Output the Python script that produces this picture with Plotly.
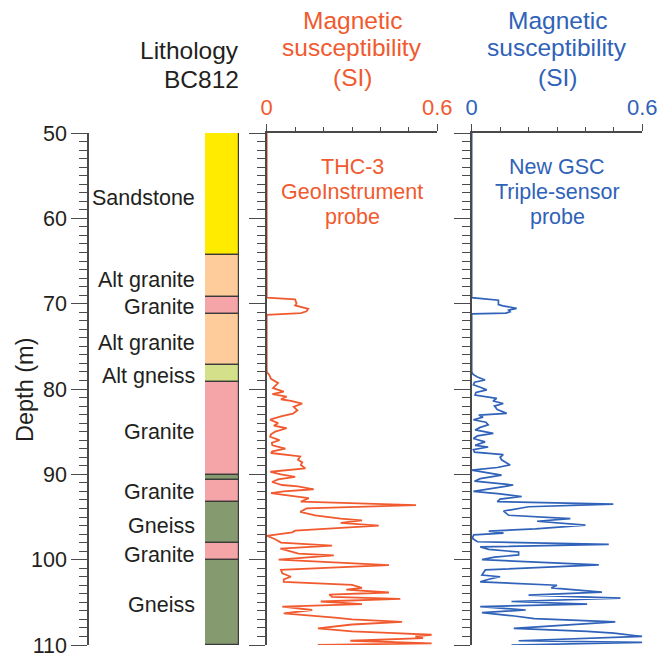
import plotly.graph_objects as go

# ---------------- data ----------------
# Lithology log for borehole BC812: unit name, top depth (m), bottom depth (m)
litho_names = ["Sandstone", "Alt granite", "Granite", "Alt granite", "Alt gneiss",
               "Granite", "Gneiss", "Granite", "Gneiss", "Granite", "Gneiss"]
litho_top = [50.0, 64.3, 69.2, 71.2, 77.2, 79.2, 90.1, 90.7, 93.2, 98.1, 100.0]
litho_bottom = [64.3, 69.2, 71.2, 77.2, 79.2, 90.1, 90.7, 93.2, 98.1, 100.0, 110.0]
litho_labels = ["Sandstone", "Alt granite", "Granite", "Alt granite", "Alt gneiss",
                "Granite", "Granite", "Gneiss", "Granite", "Gneiss"]
litho_label_depth = [57.6, 67.2, 70.4, 74.6, 78.5, 85.0, 92.1, 96.0, 99.4, 105.3]

# THC-3 GeoInstrument probe: depth (m), magnetic susceptibility (SI)
thc_depth = [50.0, 69.3, 69.5, 70.0, 70.2, 70.6, 70.9, 71.1, 71.3, 78.0, 78.4, 78.8,
             79.3, 79.9, 80.3, 80.6, 80.9, 81.2, 81.4, 81.7, 82.1, 82.5, 82.9, 83.2,
             83.6, 84.0, 84.3, 84.6, 85.0, 85.3, 85.6, 86.0, 86.3, 86.6, 87.0, 87.3,
             87.5, 87.9, 88.3, 88.6, 88.9, 89.3, 89.7, 90.0, 90.3, 90.6, 90.9, 91.25,
             91.4, 91.75, 92.0, 92.2, 92.4, 92.8, 93.2, 93.6, 94.0, 94.4, 94.8, 95.2,
             95.4, 95.7, 96.0, 96.3, 96.6, 96.8, 97.2, 97.6, 98.0, 98.35, 98.7, 99.1,
             99.3, 99.5, 99.8, 100.0, 100.65, 101.2, 101.6, 102.0, 102.3, 102.6, 102.95,
             103.3, 103.5, 103.85, 104.1, 104.35, 104.6, 104.9, 105.2, 105.5, 105.9,
             106.3, 106.8, 107.0, 107.3, 107.6, 108.05, 108.4, 108.6, 108.8, 109.0,
             109.2, 109.5, 109.8, 110.0]
thc_ms = [0.0, 0.0, 0.1, 0.105, 0.1, 0.146, 0.14, 0.12, 0.0, 0.0, 0.01, 0.015,
          0.04, 0.022, 0.06, 0.02, 0.07, 0.05, 0.085, 0.125, 0.095, 0.108, 0.092, 0.05,
          0.012, 0.04, 0.025, 0.07, 0.03, 0.015, 0.012, 0.045, 0.018, 0.02, 0.066, 0.02,
          0.015, 0.118, 0.11, 0.125, 0.12, 0.136, 0.013, 0.05, 0.1, 0.04, 0.019, 0.054,
          0.11, 0.165, 0.06, 0.015, 0.06, 0.148, 0.12, 0.525, 0.14, 0.118, 0.17, 0.26,
          0.335, 0.26, 0.394, 0.26, 0.1, 0.09, 0.0, 0.03, 0.05, 0.23, 0.048, 0.09,
          0.112, 0.236, 0.1, 0.042, 0.43, 0.05, 0.055, 0.085, 0.06, 0.06, 0.3,
          0.335, 0.28, 0.43, 0.22, 0.23, 0.47, 0.19, 0.335, 0.055, 0.16,
          0.06, 0.24, 0.3, 0.476, 0.3, 0.18, 0.3, 0.45, 0.58, 0.523,
          0.55, 0.294, 0.58, 0.18]

# New GSC Triple-sensor probe: depth (m), magnetic susceptibility (SI)
gsc_depth = [50.0, 69.3, 69.6, 70.1, 70.25, 70.4, 70.55, 70.75, 70.95, 71.1, 71.2,
             78.0, 78.3, 78.6, 78.95, 79.2, 79.5, 79.8, 80.1, 80.4, 80.7, 81.1, 81.4,
             81.7, 82.0, 82.4, 82.85, 83.05, 83.3, 83.6, 83.9, 84.2, 84.5, 84.8, 85.2,
             85.5, 85.8, 86.2, 86.6, 86.8, 87.1, 87.4, 87.7, 88.0, 88.3, 88.9, 89.2,
             89.5, 89.8, 90.1, 90.5, 90.8, 91.25, 91.6, 92.0, 92.3, 92.6, 92.9, 93.2,
             93.5, 93.8, 94.3, 94.8, 95.2, 95.5, 95.95, 96.4, 96.65, 96.9, 97.1, 97.5,
             97.9, 98.2, 98.5, 98.8, 99.1, 99.45, 99.7, 100.0, 100.6, 101.2, 101.8,
             102.0, 102.3, 102.6, 103.0, 103.3, 103.8, 104.15, 104.5, 104.9, 105.2,
             105.5, 105.9, 106.2, 106.6, 106.9, 107.3, 107.7, 108.05, 108.4, 108.6,
             109.0, 109.5, 109.7, 110.0]
gsc_ms = [0.0, 0.0, 0.094, 0.094, 0.11, 0.13, 0.158, 0.13, 0.135, 0.12, 0.0,
          0.0, 0.005, 0.02, 0.047, 0.01, 0.006, 0.03, 0.053, 0.015, 0.012, 0.088, 0.075,
          0.111, 0.08, 0.09, 0.123, 0.025, 0.04, 0.006, 0.05, 0.058, 0.03, 0.012, 0.076,
          0.02, 0.006, 0.047, 0.012, 0.058, 0.006, 0.01, 0.111, 0.1, 0.105, 0.135, 0.09,
          0.0, 0.06, 0.105, 0.03, 0.01, 0.146, 0.08, 0.006, 0.1, 0.176, 0.1, 0.09,
          0.498, 0.2, 0.112, 0.13, 0.347, 0.23, 0.4, 0.224, 0.06, 0.112, 0.007, 0.002,
          0.02, 0.482, 0.03, 0.06, 0.165, 0.165, 0.08, 0.036, 0.447, 0.048, 0.036,
          0.1, 0.06, 0.03, 0.3, 0.28, 0.458, 0.2, 0.523, 0.14, 0.406,
          0.03, 0.19, 0.036, 0.15, 0.22, 0.505, 0.3, 0.148, 0.406, 0.5,
          0.6, 0.165, 0.6, 0.14]

x_ticks = [0, 0.6]
x_ticktext = ["0", "0.6"]
depth_ticks = [50, 60, 70, 80, 90, 100, 110]

# ---------------- styling ----------------
W, H = 667, 655
FONT = "Liberation Sans, Arial, Helvetica, sans-serif"
INK = "#231F20"
AXIS = "#4A4A4A"
RED = "#F15A2E"
BLUE = "#2F62B8"
LITHO_COLORS = {"Sandstone": "#FFEB00", "Alt granite": "#FDCC9A", "Granite": "#F5A4A8",
                "Alt gneiss": "#D5E08A", "Gneiss": "#869A6F"}


def px_x(v):
    return v / W


def px_y(v):
    return 1 - v / H


y_dom = [px_y(645), px_y(133)]
lith_dom = [px_x(205), px_x(239)]
p1_dom = [px_x(266.7), px_x(437.3)]
p2_dom = [px_x(471.7), px_x(642.3)]

fig = go.Figure()

# lithology column as stacked-interval bars
fig.add_trace(go.Bar(
    x=[0] * len(litho_names),
    base=litho_top,
    y=[b - t for t, b in zip(litho_top, litho_bottom)],
    width=1.0,
    marker=dict(color=[LITHO_COLORS[n] for n in litho_names],
                line=dict(color="#3A3A3A", width=1.2)),
    xaxis="x", yaxis="y", showlegend=False, hoverinfo="skip",
))

# susceptibility logs
fig.add_trace(go.Scatter(x=thc_ms, y=thc_depth, mode="lines",
                         line=dict(color=RED, width=1.8),
                         xaxis="x2", yaxis="y2", showlegend=False))
fig.add_trace(go.Scatter(x=gsc_ms, y=gsc_depth, mode="lines",
                         line=dict(color=BLUE, width=1.7),
                         xaxis="x3", yaxis="y3", showlegend=False))

depth_axis_common = dict(
    range=[110, 50], showgrid=False, zeroline=False, automargin=False,
    showline=True, linecolor=AXIS, linewidth=1.5,
    ticks="outside", tickvals=depth_ticks, ticklen=16, tickwidth=1.3, tickcolor=AXIS,
    minor=dict(dtick=1, tick0=50, ticks="outside", ticklen=8, tickwidth=1.1,
               tickcolor=AXIS, showgrid=False),
    ticklabeloverflow="allow",
    domain=y_dom,
)

top_axis_common = dict(
    range=[0, 0.6], side="top", showgrid=False, zeroline=False, automargin=False,
    showline=True, linecolor=AXIS, linewidth=1.5,
    ticks="outside", tickvals=x_ticks, ticktext=x_ticktext, ticklen=7, tickwidth=1.3,
    tickcolor=AXIS, ticklabeloverflow="allow",
    minor=dict(dtick=0.1, tick0=0, ticks="outside", ticklen=4, tickwidth=1.1,
               tickcolor=AXIS, showgrid=False),
)

fig.update_layout(
    width=W, height=H, autosize=False,
    margin=dict(l=0, r=0, t=0, b=0, pad=0, autoexpand=False),
    paper_bgcolor="white", plot_bgcolor="rgba(0,0,0,0)",
    barmode="overlay", bargap=0,
    font=dict(family=FONT, color=INK),
    xaxis=dict(domain=lith_dom, range=[-0.5, 0.5], visible=False, anchor="y",
               automargin=False),
    yaxis=dict(**depth_axis_common, anchor="free", position=px_x(88),
               showticklabels=True, tickfont=dict(size=21.5, color=INK)),
    xaxis2=dict(**top_axis_common, domain=p1_dom, anchor="y2",
                tickfont=dict(size=22, color=RED)),
    yaxis2=dict(**depth_axis_common, anchor="x2", showticklabels=False),
    xaxis3=dict(**top_axis_common, domain=p2_dom, anchor="y3",
                tickfont=dict(size=22, color=BLUE)),
    yaxis3=dict(**depth_axis_common, anchor="x3", showticklabels=False),
)

ann = []
# lithology unit names
for name, d in zip(litho_labels, litho_label_depth):
    ann.append(dict(text=name, x=px_x(197), xref="paper", xanchor="right",
                    y=d, yref="y", yanchor="middle", showarrow=False,
                    font=dict(size=21.5, color=INK)))


def text_line(txt, xc, yc, size, color, xanchor="center"):
    return dict(text=txt, x=px_x(xc), y=px_y(yc), xref="paper", yref="paper",
                xanchor=xanchor, yanchor="middle", showarrow=False,
                font=dict(size=size, color=color))


# column heading
ann.append(text_line("Lithology", 241, 51, 24.5, INK, "right"))
ann.append(text_line("BC812", 241, 79, 24.5, INK, "right"))

# panel headings
for xc, col in [(352, RED), (557, BLUE)]:
    ann.append(text_line("Magnetic", xc, 20, 24.5, col))
    ann.append(text_line("susceptibility", xc, 48, 24.5, col))
    ann.append(text_line("(SI)", xc, 77, 24.5, col))

# probe names
for i, t in enumerate(["THC-3", "GeoInstrument", "probe"]):
    ann.append(text_line(t, 352, 167 + 25 * i, 21.5, RED))
for i, t in enumerate(["New GSC", "Triple-sensor", "probe"]):
    ann.append(text_line(t, 557, 167 + 25 * i, 21.5, BLUE))

# depth axis title
ann.append(dict(text="Depth (m)", x=px_x(25), y=px_y(390), xref="paper", yref="paper",
                xanchor="center", yanchor="middle", textangle=-90, showarrow=False,
                font=dict(size=23.5, color=INK)))

fig.update_layout(annotations=ann)

fig.write_html("out.html")
